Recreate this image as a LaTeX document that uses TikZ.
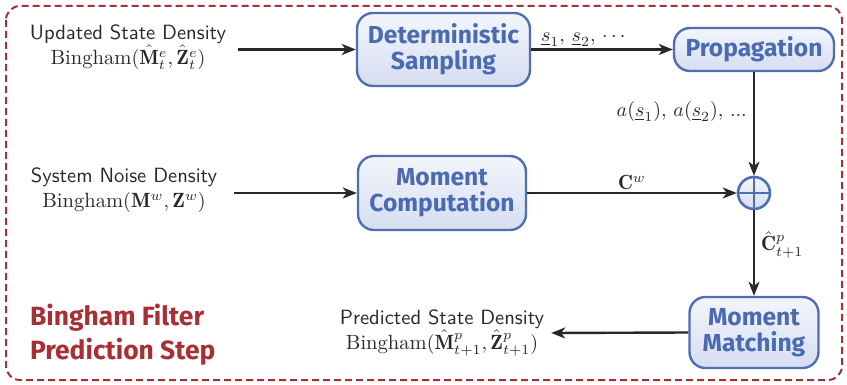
\documentclass[tikz,border=0pt]{standalone}
\usepackage{fontspec}
\usepackage{amsmath}
\newfontfamily\boxfont{Fira Sans}
\usetikzlibrary{arrows.meta,shapes.geometric,calc}
\definecolor{boxblue}{RGB}{80,110,180}
\definecolor{textblue}{RGB}{74,106,178}
\definecolor{fillA}{RGB}{242,245,251}
\definecolor{fillB}{RGB}{214,222,241}
\definecolor{framered}{RGB}{168,48,52}
\definecolor{linegray}{RGB}{40,40,40}
\tikzset{
  proc/.style={draw=boxblue, line width=1.2pt, rounded corners=8pt, top color=fillA, bottom color=fillB,
    text=textblue, font=\boxfont\bfseries\fontsize{12.3}{14}\selectfont, align=center, inner sep=1pt},
  lbl/.style={font=\sffamily\fontsize{10.3}{12.5}\selectfont, align=center, text=linegray},
  mlbl/.style={font=\fontsize{10.3}{12.5}\selectfont, text=linegray, inner sep=1pt},
  arr/.style={draw=linegray, line width=1.2pt, -{Stealth[length=7pt,width=5.5pt,inset=2pt]}},
}
\begin{document}
\begin{tikzpicture}[x=0.5pt,y=-0.5pt]
\useasboundingbox (0,0) rectangle (847,385);
\draw[framered, line width=1pt, dash pattern=on 3.5pt off 2pt, rounded corners=7pt] (6,6) rectangle (842,380);

\node[proc, minimum width=86.5pt, minimum height=36.5pt] (ds) at (443.5,49.5) {Deterministic\\[-1pt]Sampling};
\node[proc, minimum width=80pt, minimum height=21.5pt] (prop) at (754,49.5) {Propagation};
\node[proc, minimum width=84pt, minimum height=37pt] (mc) at (442,193) {Moment\\[-1pt]Computation};
\node[proc, minimum width=64.5pt, minimum height=35.5pt] (mm) at (754,332.5) {Moment\\[-1pt]Matching};
\node[circle, draw=boxblue, line width=1.3pt, top color=fillA, bottom color=fillB, minimum size=16pt, inner sep=0pt] (sum) at (754,193) {};
\draw[boxblue, line width=1.3pt] (sum.north) -- (sum.south) (sum.west) -- (sum.east);

\node[lbl] (upd) at (128,47) {Updated State Density\\$\mathrm{Bingham}(\hat{\mathbf{M}}_t^e,\hat{\mathbf{Z}}_t^e)$};
\node[lbl] (sys) at (124,190) {System Noise Density\\$\mathrm{Bingham}(\mathbf{M}^w,\mathbf{Z}^w)$};
\node[lbl] (pred) at (442,333) {Predicted State Density\\$\mathrm{Bingham}(\hat{\mathbf{M}}_{t+1}^p,\hat{\mathbf{Z}}_{t+1}^p)$};

\node[font=\boxfont\bfseries\fontsize{13.2}{17}\selectfont, text=framered, align=left, anchor=west] (title) at (23,335) {Bingham Filter\\Prediction Step};

\coordinate (updE) at (238,49.5);
\coordinate (sysE) at (234,193);
\draw[arr] (updE) -- (ds.west);
\draw[arr] (sysE) -- (mc.west);
\draw[arr] (ds.east) -- node[mlbl, above, pos=0.38] {$\underline{s}_1,\,\underline{s}_2,\,\cdots$} (prop.west);
\draw[arr] (prop.south) -- node[mlbl, left, pos=0.38, xshift=-2pt] {$a(\underline{s}_1),\,a(\underline{s}_2),\,...$} (sum.north);
\draw[arr] (mc.east) -- node[mlbl, above, pos=0.5] {$\mathbf{C}^w$} (sum.west);
\draw[arr] (sum.south) -- node[mlbl, right, pos=0.4, xshift=2pt] {$\hat{\mathbf{C}}_{t+1}^p$} (mm.north);
\draw[arr] (mm.west) -- (pred.east);
\end{tikzpicture}
\end{document}
